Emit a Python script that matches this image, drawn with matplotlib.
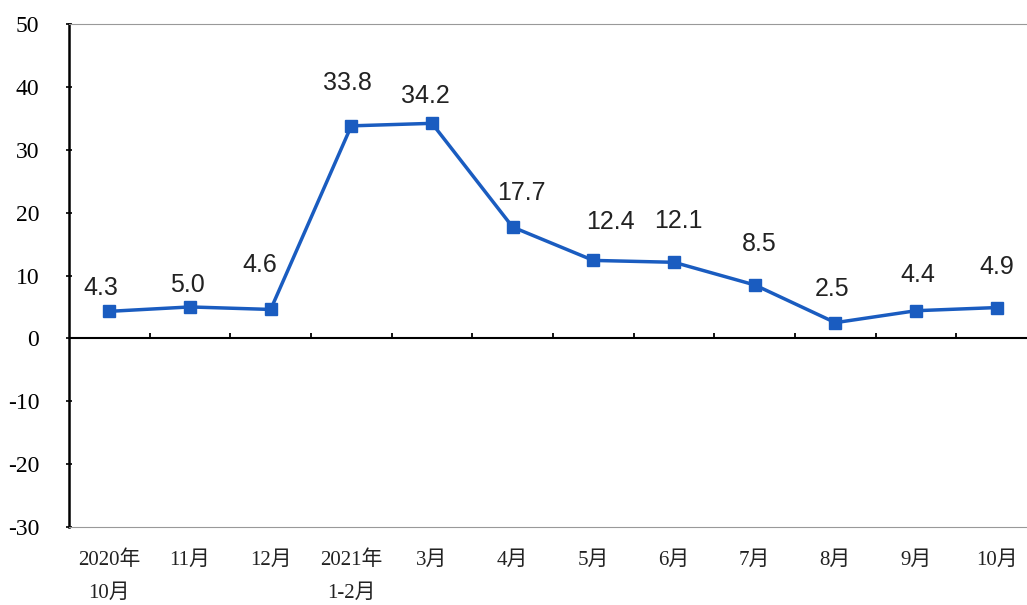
import numpy as np
import matplotlib
matplotlib.use("Agg")
import matplotlib.pyplot as plt

# data
months = ["2020年\n10月", "11月", "12月", "2021年\n1-2月", "3月", "4月", "5月",
          "6月", "7月", "8月", "9月", "10月"]
values = [4.3, 5.0, 4.6, 33.8, 34.2, 17.7, 12.4, 12.1, 8.5, 2.5, 4.4, 4.9]
yticks = [-30, -20, -10, 0, 10, 20, 30, 40, 50]

# label nudges (points)
label_dx = [-6, -2, -8, -3, -5, 6.5, 12, 3, 3.5, -2, 1, 0]
label_dy = [17, 16, 32, 31, 19.5, 24.5, 28, 30, 29.5, 24, 26, 29.5]

blue = "#1a5cc0"
cjk = ["Liberation Serif", "Noto Sans CJK SC"]

fig = plt.figure(figsize=(10.27, 6.05), dpi=100)
ax = fig.add_axes([69 / 1027, 78 / 605, 968 / 1027, 503 / 605])

x = np.arange(len(values))
ax.plot(x, values, color=blue, lw=2.5, marker="s", ms=8, zorder=3)

for i, v in enumerate(values):
    ax.annotate(f"{v:.1f}", (x[i], v), xytext=(label_dx[i], label_dy[i]),
                textcoords="offset points", ha="center", va="center",
                fontsize=18, family="Liberation Sans", color="#222222")

ax.set_xlim(-0.5, len(values) - 0.5)
ax.set_ylim(-30, 50)

# zero line with category divider ticks
ax.axhline(0, color="black", lw=1.5, zorder=2)
ax.vlines(np.arange(0.5, len(values) - 0.5), 0, 0.9, color="black", lw=1.3)

ax.set_yticks(yticks)
ax.set_yticklabels([str(t) for t in yticks], family="Liberation Serif", fontsize=17)
ax.tick_params(axis="y", direction="inout", length=5, width=1.2, pad=19)

ax.set_xticks(x)
ax.set_xticklabels(months, family=cjk, fontsize=15,
                   color="#222222", linespacing=2.0)
ax.tick_params(axis="x", length=0, pad=17)

ax.spines["left"].set_color("black")
ax.spines["left"].set_linewidth(1.8)
ax.spines["top"].set_color("#999999")
ax.spines["bottom"].set_color("#999999")
ax.spines["right"].set_visible(False)

fig.savefig("out.png", dpi=100)
